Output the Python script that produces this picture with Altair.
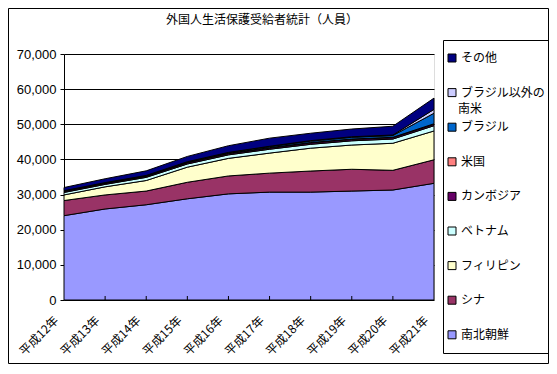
import altair as alt
import pandas as pd

years = ["平成12年", "平成13年", "平成14年", "平成15年", "平成16年",
         "平成17年", "平成18年", "平成19年", "平成20年", "平成21年"]

series = ["南北朝鮮", "シナ", "フィリピン", "ベトナム", "カンボジア",
          "米国", "ブラジル", "ブラジル以外の南米", "その他"]

korea = [24000, 25900, 27100, 28800, 30200, 30700, 30700, 31000, 31300, 33200]
china = [4300, 4000, 3900, 4700, 5100, 5400, 6000, 6200, 5600, 6700]
philippines = [1600, 2300, 3000, 4300, 5000, 5700, 6500, 6900, 7700, 8200]
vietnam = [700, 700, 900, 900, 1000, 1100, 1100, 1200, 1200, 1500]
cambodia = [300, 300, 300, 350, 350, 350, 400, 400, 400, 400]
usa = [100, 100, 100, 100, 100, 100, 100, 100, 100, 150]
brazil = [50, 50, 100, 100, 150, 300, 400, 500, 500, 3000]
south_america = [50, 50, 50, 100, 100, 100, 150, 150, 150, 1100]
others = [900, 1100, 1300, 1500, 1900, 2300, 2100, 2200, 2500, 3200]

values = [korea, china, philippines, vietnam, cambodia, usa, brazil, south_america, others]
colors = ["#9999FF", "#993366", "#FFFFCC", "#CCFFFF", "#660066",
          "#FF8080", "#0066CC", "#CCCCFF", "#000080"]

title_text = "外国人生活保護受給者統計（人員）"
wrap_first, wrap_second = "ブラジル以外の", "南米"

rows = []
for rank, (name, vals) in enumerate(zip(series, values)):
    for y, v in zip(years, vals):
        rows.append({"year": y, "country": name, "value": v, "rank": rank})
df = pd.DataFrame(rows)

JP = "Noto Sans CJK JP"

W, H = 370, 246
PL, PT, PR, PB = 56, 46, 115, 64
LEG_X, LEG_Y, LEG_PAD, CLIP_H, ROW_PAD = 379, -14, 3, 30, 4.6

x_enc = alt.X("year:O", sort=years, title=None,
              scale=alt.Scale(type="point", padding=0),
              axis=alt.Axis(labelAngle=-45, labelAlign="right", labelBaseline="middle",
                            labelFont=JP, labelFontSize=12, labelColor="black",
                            labelPadding=18, labelOffset=-8,
                            ticks=False, domain=False, grid=False))

legend = alt.Legend(
    title=None, orient="none", legendX=LEG_X, legendY=LEG_Y,
    strokeColor="black", padding=LEG_PAD,
    symbolType="square", symbolSize=64, symbolStrokeColor="black",
    symbolStrokeWidth=1, symbolOpacity=1,
    labelFont=JP, labelFontSize=12, labelColor="black", labelLimit=200,
    labelOffset=3, clipHeight=CLIP_H, rowPadding=ROW_PAD, labelBaseline="middle",
    labelExpr=f"datum.label == '{series[7]}' ? '{wrap_first}' : datum.label",
)

areas = alt.Chart(df).mark_area(stroke="black", strokeWidth=1).encode(
    x=x_enc,
    y=alt.Y("value:Q", stack="zero", title=None,
            scale=alt.Scale(domain=[0, 70000], nice=False),
            axis=alt.Axis(values=list(range(0, 70001, 10000)), format=",.0f",
                          labelFont="Liberation Sans", labelFontSize=13, labelColor="black",
                          tickColor="black", tickSize=4, labelPadding=4,
                          domainColor="black", gridColor="black", gridWidth=1)),
    color=alt.Color("country:N",
                    scale=alt.Scale(domain=series[::-1], range=colors[::-1]),
                    legend=legend),
    order=alt.Order("rank:Q", sort="ascending"),
)

ticks = alt.Chart(pd.DataFrame({"year": years[1:-1]})).mark_rule(color="black").encode(
    x=alt.X("year:O", sort=years),
    y=alt.value(H), y2=alt.value(H - 4),
)

frame = alt.Chart(alt.Data(values=[{}])).mark_rect(
    fill="white", fillOpacity=0, stroke="black", strokeWidth=1).encode(
    x=alt.value(-PL + 0.5), x2=alt.value(W + PR - 0.5),
    y=alt.value(-PT + 0.5), y2=alt.value(H + PB - 0.5),
)

title = alt.Chart(alt.Data(values=[{"t": title_text}])).mark_text(
    font=JP, fontSize=12, color="black", align="center", baseline="middle").encode(
    text="t:N", x=alt.value(198), y=alt.value(-34),
)

# second line of the wrapped legend label
entry_center = LEG_Y + LEG_PAD + CLIP_H / 2 + (CLIP_H + ROW_PAD)
wrap_text = alt.Chart(alt.Data(values=[{"t": wrap_second}])).mark_text(
    font=JP, fontSize=12, color="black", align="left", baseline="middle").encode(
    text="t:N", x=alt.value(LEG_X + LEG_PAD + 8 + 3 + 1), y=alt.value(entry_center + 16),
)

chart = alt.layer(areas, ticks, frame, title, wrap_text).properties(
    width=W, height=H,
    autosize=alt.AutoSizeParams(type="none"),
    padding={"left": PL, "top": PT, "right": PR, "bottom": PB},
).configure_view(
    fill="#C0C0C0", stroke="black", strokeWidth=1
).configure(background="white")

chart.save("out.html", embed_options={"renderer": "svg", "actions": False})
